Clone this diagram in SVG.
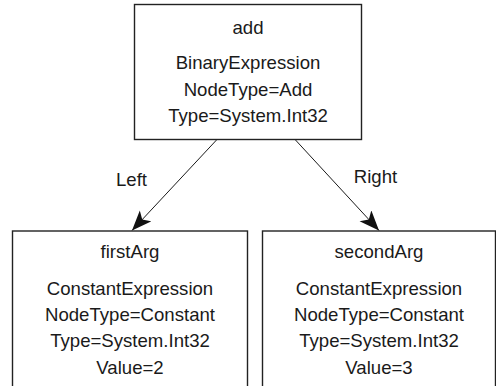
<svg xmlns="http://www.w3.org/2000/svg" width="496" height="386" viewBox="0 0 496 386">
<style>
.box{fill:#fff;stroke:#222;stroke-width:1.4}
.t{font-family:"Liberation Sans",Arial,sans-serif;font-size:18.6px;fill:#1a1a1a;text-anchor:middle}
.edge{stroke:#1a1a1a;stroke-width:1;fill:none}
</style>
<defs>
<marker id="ah" markerUnits="userSpaceOnUse" markerWidth="24" markerHeight="20" refX="20" refY="8" orient="auto">
<path d="M0,0 L20,8 L0,16 L5,8 Z" fill="#111"/>
</marker>
</defs>
<rect width="496" height="386" fill="#fff"/>
<g id="connectors">
<line class="edge" x1="216.5" y1="140" x2="132" y2="230.5" marker-end="url(#ah)"/>
<line class="edge" x1="295.5" y1="140" x2="379" y2="230.5" marker-end="url(#ah)"/>
<text class="t" x="131.5" y="186">Left</text>
<text class="t" x="375.5" y="183">Right</text>
</g>
<g id="add">
<rect class="box" x="134.5" y="4.5" width="227" height="135"/>
<text class="t" x="248" y="34">add</text>
<text class="t" x="248" y="69">BinaryExpression</text>
<text class="t" x="248" y="95.5">NodeType=Add</text>
<text class="t" x="248" y="121.5">Type=System.Int32</text>
</g>
<g id="firstArg">
<rect class="box" x="12.5" y="231" width="235" height="170"/>
<text class="t" x="130" y="258">firstArg</text>
<text class="t" x="130" y="294.5">ConstantExpression</text>
<text class="t" x="130" y="320.5">NodeType=Constant</text>
<text class="t" x="130" y="346.5">Type=System.Int32</text>
<text class="t" x="130" y="373.5">Value=2</text>
</g>
<g id="secondArg">
<rect class="box" x="262.5" y="231" width="233" height="170"/>
<text class="t" x="379" y="258">secondArg</text>
<text class="t" x="379" y="294.5">ConstantExpression</text>
<text class="t" x="379" y="320.5">NodeType=Constant</text>
<text class="t" x="379" y="346.5">Type=System.Int32</text>
<text class="t" x="379" y="373.5">Value=3</text>
</g>
</svg>
